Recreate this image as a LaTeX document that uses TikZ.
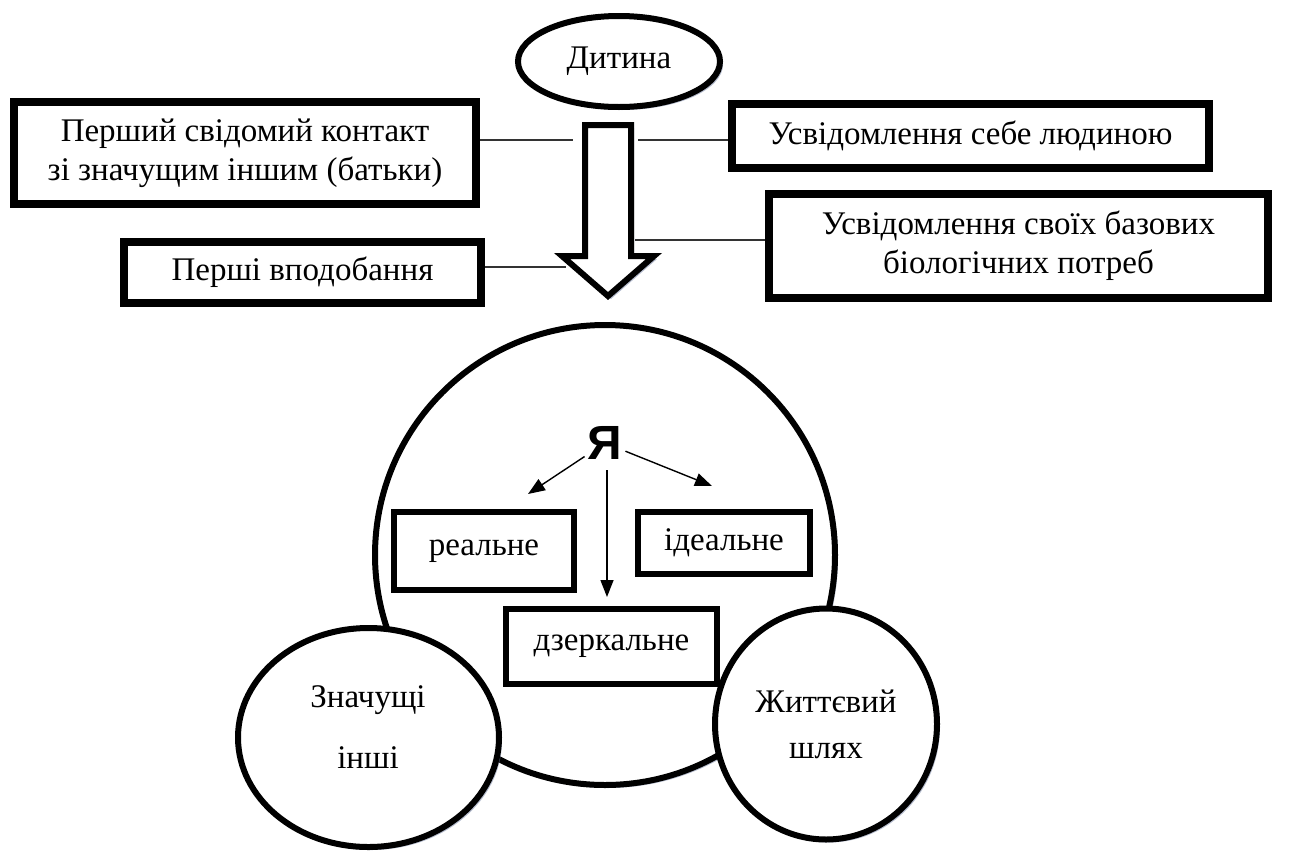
\documentclass[tikz,border=0pt]{standalone}
\usepackage{fontspec}
\setmainfont{Liberation Serif}
\newfontfamily\yafont{Liberation Sans}
\usetikzlibrary{shapes.geometric,shadows,arrows.meta}
\definecolor{shad}{RGB}{120,132,165}
\begin{document}
\begin{tikzpicture}[x=1pt,y=-1pt,
  shd/.style={drop shadow={shadow xshift=3pt,shadow yshift=-3pt,fill=shad,opacity=0.55}},
  txt/.style={font=\fontsize{33}{39}\selectfont},
  bigbox/.style={draw,line width=8pt,fill=white,shd,inner sep=0pt,align=center,txt},
  smallbox/.style={draw,line width=6.5pt,fill=white,shd,inner sep=0pt,align=center,txt},
  oval/.style={draw,ellipse,line width=6pt,fill=white,shd,inner sep=0pt,align=center,txt},
  conn/.style={line width=1.5pt,draw=black!80},
  yarrow/.style={line width=1.4pt,-{Triangle[length=17pt,width=13pt]}},
]
\fill[white] (0,0) rectangle (1301,855);
\useasboundingbox (0,0) rectangle (1301,855);

% top part
\node[oval,minimum width=202pt,minimum height=91pt] (child) at (619,61.5) {Дитина};

\draw[line width=6pt,fill=white,shd,line join=miter]
  (585,125) -- (631,125) -- (631,256) -- (654,256) -- (608,296) -- (562,256) -- (585,256) -- cycle;
\coordinate (l1) at (573,140);
\coordinate (r1) at (638,140);
\coordinate (r2) at (635,240);
\coordinate (l2) at (566,267);

\node[bigbox,minimum width=462pt,minimum height=102pt] (b1) at (245,153)
  {Перший свідомий контакт\\зі значущим іншим (батьки)};
\node[bigbox,minimum width=477pt,minimum height=64pt] (b2) at (970.5,136)
  {Усвідомлення себе людиною};
\node[bigbox,minimum width=499pt,minimum height=104pt] (b3) at (1018.5,246)
  {Усвідомлення своїх базових\\біологічних потреб};
\node[bigbox,minimum width=357pt,minimum height=61pt] (b4) at (302.5,272.5)
  {Перші вподобання};

\draw[conn] (b1.east |- l1) -- (l1);
\draw[conn] (r1) -- (b2.west |- r1);
\draw[conn] (r2) -- (b3.west |- r2);
\draw[conn] (b4.east |- l2) -- (l2);

% lower part
\node[draw,circle,line width=6pt,fill=white,shd,minimum size=460pt,inner sep=0pt] (self) at (605,555) {};

\node[font=\yafont\bfseries\fontsize{48}{48}\selectfont,inner sep=3pt] (ya) at (605,443) {Я};

\node[smallbox,minimum width=180pt,minimum height=78pt] (real) at (484,551) {реальне};
\node[smallbox,minimum width=172pt,minimum height=62pt] (ideal) at (724,543) {ідеальне};
\node[smallbox,minimum width=211pt,minimum height=75pt] (mirror) at (611.5,646.5) {дзеркальне};

\coordinate (ylend) at (528,494);
\coordinate (yrend) at (712,486);
\coordinate (ystart) at (607,470);
\coordinate (ydend) at (607,597);
\draw[yarrow] (ya) -- (ylend);
\draw[yarrow] (ya) -- (yrend);
\draw[yarrow] (ystart) -- (ydend);

\node[oval,minimum width=261pt,minimum height=219pt] (others) at (368.5,737.5) {};
\node[txt] at (368,700) {Значущі};
\node[txt] at (368,758) {інші};

\node[oval,minimum width=222pt,minimum height=231pt,font=\fontsize{33}{46}\selectfont] (life) at (826,724) {Життєвий\\шлях};
\end{tikzpicture}
\end{document}
